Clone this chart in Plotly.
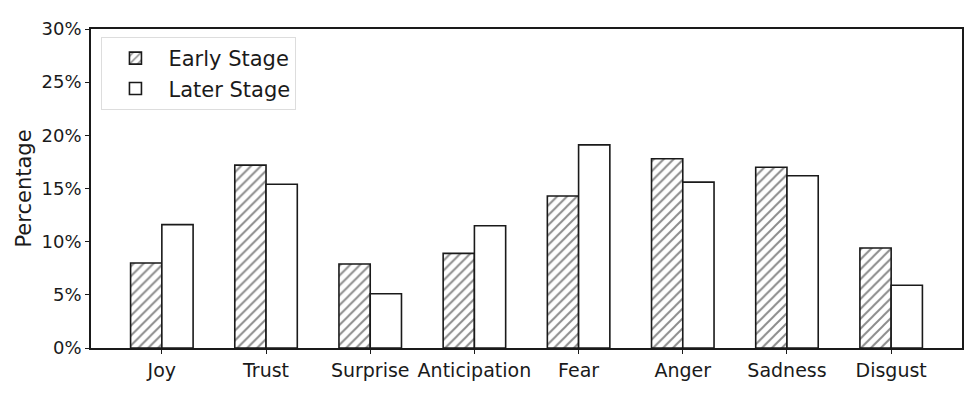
import plotly.graph_objects as go

# Emotion categories and share of tweets per stage (percent)
emotions = ["Joy", "Trust", "Surprise", "Anticipation", "Fear", "Anger", "Sadness", "Disgust"]
early_stage = [8.0, 17.2, 7.9, 8.9, 14.3, 17.8, 17.0, 9.4]
later_stage = [11.6, 15.4, 5.1, 11.5, 19.1, 15.6, 16.2, 5.9]
y_ticks = [0, 5, 10, 15, 20, 25, 30]
y_tick_text = [f"{v}%" for v in y_ticks]

FONT = "DejaVu Sans"
INK = "#1a1a1a"

fig = go.Figure()
fig.add_trace(go.Bar(
    name="Early Stage", x=emotions, y=early_stage,
    marker=dict(color="white", line=dict(color=INK, width=1.6),
                pattern=dict(shape="/", fgcolor=INK, bgcolor="white",
                             size=7, solidity=0.28)),
))
fig.add_trace(go.Bar(
    name="Later Stage", x=emotions, y=later_stage,
    marker=dict(color="white", line=dict(color=INK, width=1.6)),
))

fig.update_layout(
    width=976, height=402,
    margin=dict(l=91, r=14, t=29, b=54),
    paper_bgcolor="white", plot_bgcolor="white",
    barmode="group", bargap=0.4, bargroupgap=0,
    font=dict(family=FONT, size=18, color=INK),
    showlegend=True,
    legend=dict(x=0.012, y=0.975, xanchor="left", yanchor="top",
                bgcolor="white", bordercolor="#dddddd", borderwidth=1,
                font=dict(size=21, family=FONT), itemwidth=56,
                tracegroupgap=2),
)
fig.update_xaxes(
    range=[-0.68, 7.68], showline=True, linecolor=INK, linewidth=1.6,
    mirror=True, ticks="outside", ticklen=4, tickcolor=INK,
    showgrid=False, tickfont=dict(size=19, family=FONT),
)
fig.update_yaxes(
    range=[0, 30], tickvals=y_ticks, ticktext=y_tick_text,
    showline=True, linecolor=INK, linewidth=1.6, mirror=True,
    ticks="outside", ticklen=4, tickcolor=INK, showgrid=False,
    zeroline=False, tickfont=dict(size=18, family=FONT),
    title=dict(text="Percentage", font=dict(size=21, family=FONT), standoff=4),
)

fig.write_html("out.html")
